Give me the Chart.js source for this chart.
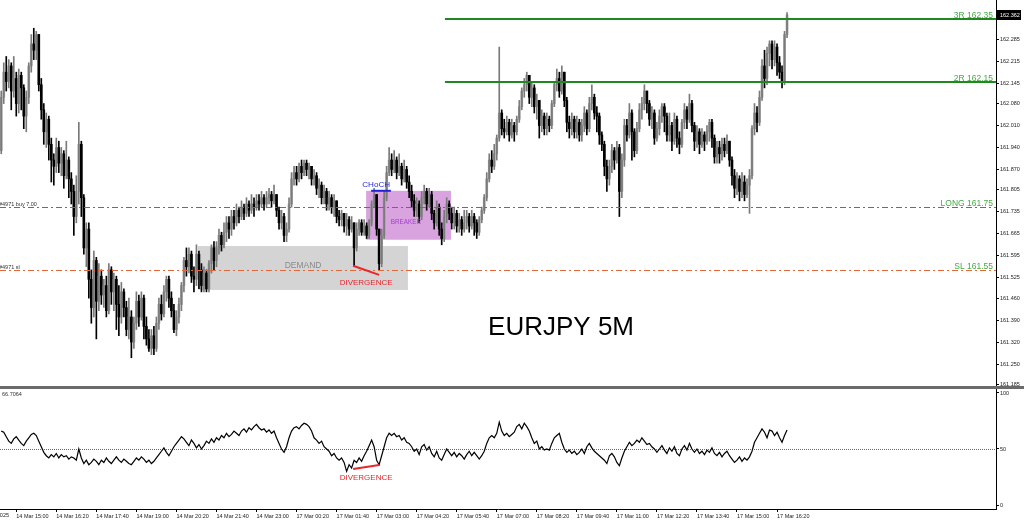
<!DOCTYPE html>
<html>
<head>
<meta charset="utf-8">
<script src="https://cdn.jsdelivr.net/npm/chart.js@4.4.1/dist/chart.umd.min.js"></script>
<style>
    html, body { margin: 0; padding: 0; background: #fff; }
    #wrap { position: relative; width: 1024px; height: 522px; overflow: hidden; }
    canvas { position: absolute; left: 0; }
    #priceChart { top: 0; }
    #rsiChart { top: 389px; }
    #sep { position: absolute; left: 0; top: 386px; width: 1024px; height: 3px; background: #6b6b6b; }
</style>
</head>
<body>
<div id="wrap">
    <canvas id="priceChart" width="1024" height="386"></canvas>
    <div id="sep"></div>
    <canvas id="rsiChart" width="1024" height="133"></canvas>
</div>
<script>
// EURJPY 5 minute bars, 14 Mar 14:30 -> 17 Mar 16:35
const firstOpen = 161.93;

const closes = [
    162.10, 162.18, 162.15, 162.20, 162.12, 162.16, 162.08, 162.17, 162.13, 162.04,
    162.10, 162.20, 162.27, 162.25, 162.30, 162.14, 162.06, 161.99, 162.03, 161.95,
    161.90, 161.88, 161.94, 161.89, 161.92, 161.85, 161.90, 161.84, 161.80, 161.72,
    161.80, 161.95, 161.78, 161.62, 161.68, 161.52, 161.43, 161.58, 161.45, 161.53,
    161.47, 161.50, 161.42, 161.55, 161.48, 161.52, 161.44, 161.40, 161.48, 161.43,
    161.36, 161.40, 161.32, 161.38, 161.45, 161.40, 161.46, 161.37, 161.33, 161.30,
    161.34, 161.30, 161.38, 161.44, 161.41, 161.48, 161.52, 161.46, 161.42, 161.36,
    161.40, 161.44, 161.50, 161.58, 161.56, 161.60, 161.53, 161.52, 161.60, 161.55,
    161.50, 161.54, 161.49, 161.57, 161.62, 161.58, 161.62, 161.66, 161.63, 161.67,
    161.70, 161.68, 161.72, 161.70, 161.74, 161.72, 161.75, 161.73, 161.76, 161.74,
    161.76, 161.75, 161.77, 161.76, 161.78, 161.76, 161.78, 161.79, 161.77, 161.79,
    161.74, 161.70, 161.72, 161.66, 161.68, 161.76, 161.84, 161.86, 161.84, 161.88,
    161.86, 161.89, 161.87, 161.88, 161.84, 161.85, 161.81, 161.82, 161.78, 161.80,
    161.76, 161.78, 161.75, 161.77, 161.72, 161.71, 161.73, 161.69, 161.71, 161.68,
    161.70, 161.62, 161.68, 161.70, 161.67, 161.69, 161.66, 161.70, 161.76, 161.79,
    161.68, 161.57, 161.66, 161.78, 161.86, 161.90, 161.87, 161.90, 161.86, 161.88,
    161.84, 161.87, 161.83, 161.80, 161.77, 161.74, 161.76, 161.72, 161.78, 161.80,
    161.76, 161.79, 161.73, 161.70, 161.75, 161.68, 161.65, 161.72, 161.76, 161.73,
    161.70, 161.73, 161.69, 161.71, 161.68, 161.70, 161.72, 161.69, 161.72, 161.70,
    161.67, 161.71, 161.74, 161.78, 161.84, 161.90, 161.88, 161.92, 161.97, 162.05,
    162.00, 161.99, 162.02, 161.98, 162.01, 161.99, 162.03, 162.07, 162.12, 162.14,
    162.17, 162.10, 162.13, 162.07, 162.09, 162.01, 162.04, 162.00, 162.03, 162.01,
    162.08, 162.14, 162.16, 162.12, 162.18, 162.09, 162.02, 162.00, 162.03, 161.99,
    162.02, 161.98, 162.01, 162.05, 162.00, 162.08, 162.10, 162.05, 162.04, 161.98,
    161.95, 161.88, 161.84, 161.88, 161.93, 161.90, 161.94, 161.80, 161.90, 162.01,
    161.98, 162.05, 161.99, 161.93, 162.00, 162.06, 162.08, 162.12, 162.08, 162.03,
    162.05, 161.97, 162.00, 162.04, 162.07, 162.04, 161.98, 162.01, 161.96, 162.03,
    161.97, 161.95, 162.02, 162.06, 162.03, 162.08, 162.01, 161.96, 161.99, 161.95,
    161.98, 161.96, 161.99, 162.02, 161.97, 161.91, 161.94, 161.92, 161.95, 161.93,
    161.96, 161.90, 161.85, 161.81, 161.84, 161.80, 161.83, 161.79, 161.82, 161.85,
    162.00, 162.05, 162.02, 162.10, 162.20, 162.16, 162.24, 162.27, 162.22, 162.26,
    162.21, 162.18, 162.15, 162.30, 162.362
];

const highs = [
    162.12, 162.21, 162.23, 162.22, 162.21, 162.23, 162.18, 162.19, 162.18, 162.14,
    162.12, 162.21, 162.30, 162.32, 162.31, 162.30, 162.16, 162.08, 162.05, 162.04,
    161.97, 161.92, 161.97, 161.96, 161.94, 161.93, 161.96, 161.91, 161.86, 161.82,
    161.85, 162.02, 161.96, 161.79, 161.70, 161.70, 161.55, 161.61, 161.59, 161.57,
    161.55, 161.52, 161.53, 161.57, 161.56, 161.54, 161.53, 161.50, 161.51, 161.49,
    161.45, 161.46, 161.42, 161.40, 161.48, 161.47, 161.48, 161.47, 161.40, 161.36,
    161.36, 161.37, 161.40, 161.46, 161.47, 161.50, 161.53, 161.53, 161.48, 161.44,
    161.42, 161.46, 161.51, 161.59, 161.62, 161.62, 161.61, 161.56, 161.63, 161.61,
    161.57, 161.56, 161.55, 161.58, 161.63, 161.64, 161.64, 161.68, 161.67, 161.70,
    161.72, 161.72, 161.74, 161.74, 161.76, 161.75, 161.77, 161.76, 161.78, 161.77,
    161.79, 161.78, 161.79, 161.79, 161.80, 161.79, 161.80, 161.81, 161.80, 161.82,
    161.79, 161.75, 161.74, 161.73, 161.70, 161.78, 161.86, 161.88, 161.88, 161.89,
    161.90, 161.90, 161.90, 161.89, 161.88, 161.87, 161.86, 161.84, 161.83, 161.82,
    161.81, 161.80, 161.79, 161.79, 161.77, 161.74, 161.74, 161.73, 161.73, 161.72,
    161.72, 161.70, 161.70, 161.71, 161.71, 161.71, 161.70, 161.71, 161.77, 161.81,
    161.79, 161.68, 161.68, 161.80, 161.88, 161.94, 161.92, 161.93, 161.91, 161.92,
    161.89, 161.90, 161.88, 161.85, 161.82, 161.79, 161.78, 161.77, 161.80, 161.82,
    161.81, 161.81, 161.80, 161.74, 161.77, 161.76, 161.70, 161.74, 161.78, 161.77,
    161.75, 161.75, 161.74, 161.73, 161.72, 161.74, 161.74, 161.73, 161.74, 161.73,
    161.71, 161.72, 161.75, 161.79, 161.86, 161.92, 161.93, 161.95, 161.98, 162.26,
    162.06, 162.03, 162.04, 162.03, 162.03, 162.02, 162.04, 162.09, 162.13, 162.16,
    162.18, 162.17, 162.15, 162.14, 162.11, 162.09, 162.06, 162.05, 162.05, 162.04,
    162.09, 162.15, 162.19, 162.18, 162.20, 162.18, 162.10, 162.04, 162.05, 162.04,
    162.04, 162.03, 162.03, 162.07, 162.06, 162.10, 162.14, 162.11, 162.07, 162.05,
    161.99, 161.96, 161.90, 161.90, 161.95, 161.94, 161.96, 161.95, 161.92, 162.03,
    162.03, 162.08, 162.06, 162.00, 162.02, 162.08, 162.10, 162.14, 162.12, 162.09,
    162.07, 162.06, 162.02, 162.06, 162.08, 162.08, 162.05, 162.05, 162.02, 162.05,
    162.04, 161.99, 162.03, 162.08, 162.07, 162.11, 162.09, 162.02, 162.01, 162.00,
    162.00, 161.99, 162.01, 162.03, 162.03, 161.98, 161.96, 161.96, 161.97, 161.97,
    161.98, 161.96, 161.91, 161.87, 161.86, 161.85, 161.86, 161.85, 161.84, 161.87,
    162.01, 162.08, 162.07, 162.12, 162.22, 162.25, 162.26, 162.28, 162.28, 162.28,
    162.27, 162.23, 162.20, 162.31, 162.37
];

const lows = [
    161.92, 162.08, 162.12, 162.13, 162.06, 162.10, 162.04, 162.05, 162.06, 162.00,
    161.99, 162.08, 162.18, 162.22, 162.22, 162.12, 162.03, 161.95, 161.94, 161.90,
    161.83, 161.82, 161.86, 161.86, 161.85, 161.81, 161.84, 161.78, 161.76, 161.66,
    161.70, 161.76, 161.72, 161.60, 161.56, 161.46, 161.38, 161.40, 161.33, 161.42,
    161.44, 161.43, 161.40, 161.41, 161.44, 161.42, 161.36, 161.34, 161.38, 161.40,
    161.34, 161.33, 161.27, 161.30, 161.36, 161.37, 161.39, 161.33, 161.31, 161.29,
    161.28, 161.28, 161.29, 161.36, 161.39, 161.40, 161.45, 161.43, 161.40, 161.35,
    161.34, 161.38, 161.42, 161.48, 161.53, 161.54, 161.51, 161.48, 161.50, 161.49,
    161.48, 161.48, 161.48, 161.48, 161.54, 161.55, 161.56, 161.60, 161.61, 161.62,
    161.64, 161.65, 161.66, 161.68, 161.69, 161.70, 161.71, 161.71, 161.72, 161.72,
    161.73, 161.72, 161.74, 161.74, 161.75, 161.74, 161.75, 161.76, 161.75, 161.76,
    161.72, 161.68, 161.68, 161.64, 161.64, 161.67, 161.75, 161.82, 161.82, 161.83,
    161.84, 161.85, 161.85, 161.84, 161.82, 161.82, 161.79, 161.78, 161.76, 161.76,
    161.74, 161.74, 161.73, 161.72, 161.70, 161.69, 161.69, 161.67, 161.66, 161.66,
    161.67, 161.56, 161.61, 161.66, 161.66, 161.66, 161.65, 161.65, 161.69, 161.75,
    161.66, 161.55, 161.56, 161.65, 161.77, 161.85, 161.85, 161.86, 161.84, 161.85,
    161.82, 161.83, 161.81, 161.78, 161.75, 161.72, 161.72, 161.70, 161.71, 161.76,
    161.74, 161.75, 161.71, 161.68, 161.69, 161.66, 161.63, 161.64, 161.70, 161.71,
    161.68, 161.68, 161.67, 161.67, 161.66, 161.67, 161.68, 161.67, 161.68, 161.66,
    161.65, 161.66, 161.70, 161.73, 161.77, 161.83, 161.86, 161.87, 161.90, 161.96,
    161.98, 161.97, 161.98, 161.96, 161.97, 161.96, 161.98, 162.02, 162.06, 162.10,
    162.12, 162.08, 162.07, 162.05, 162.03, 161.97, 161.99, 161.98, 161.98, 161.99,
    162.00, 162.07, 162.12, 162.10, 162.11, 162.07, 161.99, 161.97, 161.98, 161.97,
    161.97, 161.96, 161.96, 161.99, 161.98, 161.99, 162.06, 162.03, 161.99, 161.95,
    161.93, 161.85, 161.80, 161.82, 161.86, 161.87, 161.89, 161.72, 161.78, 161.88,
    161.96, 161.97, 161.90, 161.91, 161.92, 161.99, 162.03, 162.06, 162.05, 162.01,
    162.00, 161.95, 161.96, 161.98, 162.02, 161.99, 161.96, 161.96, 161.93, 161.95,
    161.94, 161.92, 161.94, 162.00, 162.00, 162.02, 161.99, 161.93, 161.94, 161.92,
    161.94, 161.93, 161.95, 161.96, 161.94, 161.89, 161.89, 161.89, 161.90, 161.91,
    161.92, 161.88, 161.82, 161.78, 161.79, 161.77, 161.78, 161.77, 161.78, 161.73,
    161.84, 161.98, 161.99, 162.01, 162.09, 162.13, 162.14, 162.20, 162.19, 162.20,
    162.17, 162.16, 162.13, 162.14, 162.29
];

const rsi = [
    66, 65, 61, 57, 55, 59, 61, 58, 55, 53, 57, 60, 63, 64, 62,
    57, 52, 47, 44, 42, 45,
    43, 46, 42, 45, 43, 44, 41, 43, 42, 40,
    50, 42, 37, 40, 36,
    38, 41, 39, 36, 40, 38, 42, 39, 37, 40, 43, 40, 38, 41, 39, 37, 36, 39, 42, 40, 43, 41, 38, 40, 37, 39, 42,
    45, 48, 51, 47, 44, 48, 52, 55, 58, 61, 59,
    56, 53, 58, 55, 51, 54, 50, 53, 57, 55, 59, 56, 60,
    58, 62, 60, 64, 61, 63, 66, 64, 62, 66, 68, 65, 69, 67, 70, 72, 69, 67,
    68, 65, 67, 64, 66, 60, 55, 50, 47, 52,
    60, 66, 69, 70, 68, 71, 73, 72, 70, 66,
    60, 58, 55, 57, 52, 50, 48, 44, 46, 42, 40, 42, 38, 30,
    36, 33, 40, 38, 42, 39, 44, 48, 53, 58, 52, 40, 36,
    44, 52, 60, 64, 62, 64, 61, 62, 58, 60, 56, 55, 52,
    48, 50, 45, 52, 54, 49, 52, 46, 43, 48, 42, 40, 45, 50, 47, 44, 47, 43, 46, 44, 41, 45, 48, 44, 47, 44, 41, 44, 48,
    55, 60, 62, 60, 64, 74, 66, 62, 64, 61, 63, 65, 70, 72, 68, 73, 70, 66,
    60, 55, 57, 50, 52, 49, 50, 49, 55, 60, 62, 64,
    56, 50, 47, 49, 46, 48, 45, 47, 50, 46, 52, 55, 51, 48, 46, 44, 42,
    40, 37, 44, 46, 43, 38, 35, 42,
    48, 52, 56, 53, 55, 58, 56, 60, 57, 54, 55, 52, 50,
    47, 50, 53, 49, 46, 51, 48, 52, 46, 44, 50, 53, 49, 55, 50, 47, 50, 46, 48, 45, 49, 47, 51, 46, 44, 47, 43, 46, 48, 44, 41,
    38, 40, 43, 39, 42, 40, 43, 48,
    56, 60, 64, 68, 65, 60, 67, 66, 62, 65, 60, 56, 62, 67
];

const timeLabels = [
    '14 Mar 15:00', '14 Mar 16:20', '14 Mar 17:40', '14 Mar 19:00', '14 Mar 20:20',
    '14 Mar 21:40', '14 Mar 23:00', '17 Mar 00:20', '17 Mar 01:40', '17 Mar 03:00',
    '17 Mar 04:20', '17 Mar 05:40', '17 Mar 07:00', '17 Mar 08:20', '17 Mar 09:40',
    '17 Mar 11:00', '17 Mar 12:20', '17 Mar 13:40', '17 Mar 15:00', '17 Mar 16:20'
];
const priceTicks = [161.185, 161.250, 161.320, 161.390, 161.460, 161.525, 161.595, 161.665,
    161.735, 161.805, 161.870, 161.940, 162.010, 162.080, 162.145, 162.215, 162.285];
const rsiTicks = [0, 50, 100];

// chart layout constants
const slotCount = 398;      // bars that fit the window, incl. empty space on the right
const firstTick = 6;        // bar index of the first time label
const tickStep = 16;        // one label every 80 minutes
const FONT = "'Liberation Sans', Arial, sans-serif";

const opens = [firstOpen].concat(closes.slice(0, -1));
const tickIndexes = timeLabels.map((t, k) => firstTick + k * tickStep);
const labels = [];
for (let i = 0; i < slotCount; i++) {
    const k = tickIndexes.indexOf(i);
    labels.push(k === -1 ? '' : timeLabels[k]);
}

const levels = [
    { price: 162.35, from: 177.3, text: '3R 162.35', color: '#1e8a1e', width: 2, dash: [] },
    { price: 162.15, from: 177.3, text: '2R 162.15', color: '#1e8a1e', width: 2, dash: [] },
    { price: 161.75, from: null, text: 'LONG 161.75', color: '#2c9a2c', width: 1, dash: [6, 3, 2, 3], left: '#4971 buy 7.00' },
    { price: 161.55, from: null, text: 'SL 161.55', color: '#e2683c', width: 1, dash: [6, 3, 2, 3], left: '#4971 sl' }
];
const zones = [
    { from: 78.6, to: 162.5, top: 161.626, bottom: 161.486, color: '#d4d4d4', text: 'DEMAND', tx: 120.6, ty: 161.563, tcolor: '#8a8a8a', size: 8.5 },
    { from: 145.8, to: 179.7, top: 161.802, bottom: 161.646, color: '#d9a3e0', text: 'BREAKER', tx: 161.7, ty: 161.703, tcolor: '#a23ccf', size: 6.3 }
];

function drawText(ctx, text, x, y, size, color, align, baseline) {
    ctx.save();
    ctx.font = size + 'px ' + FONT;
    ctx.fillStyle = color;
    ctx.textAlign = align || 'center';
    ctx.textBaseline = baseline || 'middle';
    ctx.fillText(text, x, y);
    ctx.restore();
}

function drawLine(ctx, x0, y0, x1, y1, color, width, dash) {
    ctx.save();
    ctx.strokeStyle = color;
    ctx.lineWidth = width;
    ctx.setLineDash(dash || []);
    ctx.beginPath();
    ctx.moveTo(x0, y0);
    ctx.lineTo(x1, y1);
    ctx.stroke();
    ctx.restore();
}

const priceAnnotations = {
    id: 'priceAnnotations',
    beforeDatasetsDraw(chart) {
        const { ctx, scales: { x, y } } = chart;
        zones.forEach(z => {
            const x0 = x.getPixelForValue(z.from);
            const x1 = x.getPixelForValue(z.to);
            const y0 = y.getPixelForValue(z.top);
            const y1 = y.getPixelForValue(z.bottom);
            ctx.fillStyle = z.color;
            ctx.fillRect(x0, y0, x1 - x0, y1 - y0);
        });
    },
    afterDatasetsDraw(chart) {
        const { ctx, chartArea, scales: { x, y } } = chart;
        levels.forEach(l => {
            const py = Math.round(y.getPixelForValue(l.price)) + (l.width === 1 ? 0.5 : 0);
            const x0 = l.from === null ? chartArea.left : x.getPixelForValue(l.from);
            drawLine(ctx, x0, py, chartArea.right, py, l.color, l.width, l.dash);
            drawText(ctx, l.text, chartArea.right - 3, py - 1.5, 8.5, '#45a845', 'right', 'alphabetic');
            if (l.left) {
                drawText(ctx, l.left, -1, py - 1.5, 5.5, '#333', 'left', 'alphabetic');
            }
        });
        zones.forEach(z => {
            drawText(ctx, z.text, x.getPixelForValue(z.tx), y.getPixelForValue(z.ty), z.size, z.tcolor);
        });

        // change of character
        const chY = y.getPixelForValue(161.802);
        drawLine(ctx, x.getPixelForValue(147.8), chY, x.getPixelForValue(155.7), chY, '#2222dd', 2);
        drawText(ctx, 'CHoCH', x.getPixelForValue(149.8), y.getPixelForValue(161.821), 8.1, '#2b2bd6');

        // divergence on price
        drawLine(ctx, x.getPixelForValue(140.6), y.getPixelForValue(161.563),
            x.getPixelForValue(151), y.getPixelForValue(161.534), '#e8262b', 2);
        drawText(ctx, 'DIVERGENCE', x.getPixelForValue(145.8), y.getPixelForValue(161.510), 8, '#e8262b');

        drawText(ctx, 'EURJPY 5M', x.getPixelForValue(223.7), y.getPixelForValue(161.365), 26, '#000');
    },
    afterDraw(chart) {
        const { ctx, chartArea, scales: { y } } = chart;
        const last = closes[closes.length - 1];
        const py = Math.round(y.getPixelForValue(last));
        ctx.fillStyle = '#000';
        ctx.fillRect(chartArea.right + 1, py - 5, 24, 10);
        drawText(ctx, last.toFixed(3), chartArea.right + 4, py + 0.5, 5.5, '#fff', 'left');
    }
};

const rsiAnnotations = {
    id: 'rsiAnnotations',
    beforeDatasetsDraw(chart) {
        const { ctx, chartArea, scales: { y } } = chart;
        const py = Math.round(y.getPixelForValue(50)) + 0.5;
        drawLine(ctx, chartArea.left, py, chartArea.right, py, '#666', 1, [1, 1]);
    },
    afterDatasetsDraw(chart) {
        const { ctx, scales: { x, y } } = chart;
        drawLine(ctx, x.getPixelForValue(140.6), y.getPixelForValue(32.1),
            x.getPixelForValue(151), y.getPixelForValue(35.7), '#e8262b', 2);
        drawText(ctx, 'DIVERGENCE', x.getPixelForValue(145.8), y.getPixelForValue(24.1), 8, '#e8262b');
        drawText(ctx, '66.7064', 2, 5, 5.5, '#333', 'left');
        drawText(ctx, '14 Mar 2025', 9, x.top + 4, 5.5, '#222', 'right', 'top');
    }
};

function axisFit(scale) {
    if (scale.isHorizontal()) {
        scale.height = 13;
    } else {
        scale.width = 28;
    }
    scale.paddingTop = 0;
    scale.paddingBottom = 0;
    scale.paddingLeft = 0;
    scale.paddingRight = 0;
}

function renderPriceChart() {
    const ctx = document.getElementById('priceChart').getContext('2d');
    const bodyColors = closes.map((c, i) => c >= opens[i] ? '#9c9c9c' : '#000');
    const wickColors = closes.map((c, i) => c >= opens[i] ? '#7a7a7a' : '#000');

    new Chart(ctx, {
        type: 'bar',
        data: {
            labels: labels,
            datasets: [{
                label: 'Wick',
                data: lows.map((l, i) => [Math.min(l, opens[i], closes[i]), Math.max(highs[i], opens[i], closes[i])]),
                backgroundColor: wickColors,
                barThickness: 1,
                grouped: false
            }, {
                label: 'Body',
                data: closes.map((c, i) => [opens[i], c]),
                backgroundColor: bodyColors,
                barThickness: 2,
                minBarLength: 1,
                grouped: false
            }]
        },
        options: {
            responsive: false,
            animation: false,
            devicePixelRatio: 1,
            layout: { padding: 0 },
            plugins: {
                legend: { display: false },
                tooltip: { enabled: false }
            },
            scales: {
                x: {
                    display: false,
                    offset: true,
                    grid: { offset: false }
                },
                y: {
                    position: 'right',
                    min: 161.18,
                    max: 162.41,
                    afterBuildTicks: s => { s.ticks = priceTicks.map(v => ({ value: v })); },
                    afterFit: axisFit,
                    ticks: {
                        autoSkip: false,
                        padding: 1,
                        color: '#222',
                        font: { family: FONT, size: 5.5 },
                        callback: v => v.toFixed(3)
                    },
                    grid: { drawOnChartArea: false, tickLength: 3, color: '#000' },
                    border: { color: '#000', width: 1 }
                }
            }
        },
        plugins: [priceAnnotations]
    });
}

function renderRsiChart() {
    const ctx = document.getElementById('rsiChart').getContext('2d');
    new Chart(ctx, {
        type: 'line',
        data: {
            labels: labels,
            datasets: [{
                label: 'RSI',
                data: rsi,
                borderColor: '#000',
                borderWidth: 1.2,
                pointRadius: 0,
                tension: 0
            }]
        },
        options: {
            responsive: false,
            animation: false,
            devicePixelRatio: 1,
            layout: { padding: 0 },
            plugins: {
                legend: { display: false },
                tooltip: { enabled: false }
            },
            scales: {
                x: {
                    offset: true,
                    afterBuildTicks: s => { s.ticks = tickIndexes.map(v => ({ value: v })); },
                    afterFit: axisFit,
                    ticks: {
                        autoSkip: false,
                        maxRotation: 0,
                        minRotation: 0,
                        align: 'start',
                        padding: 1,
                        color: '#222',
                        font: { family: FONT, size: 5.5 }
                    },
                    grid: { offset: false, drawOnChartArea: false, tickLength: 3, color: '#000' },
                    border: { color: '#000', width: 1 }
                },
                y: {
                    position: 'right',
                    min: -3.57,
                    max: 103.57,
                    afterBuildTicks: s => { s.ticks = rsiTicks.map(v => ({ value: v })); },
                    afterFit: axisFit,
                    ticks: {
                        autoSkip: false,
                        padding: 1,
                        color: '#222',
                        font: { family: FONT, size: 5.5 }
                    },
                    grid: { drawOnChartArea: false, tickLength: 3, color: '#000' },
                    border: { color: '#000', width: 1 }
                }
            }
        },
        plugins: [rsiAnnotations]
    });
}

renderPriceChart();
renderRsiChart();
</script>
</body>
</html>
